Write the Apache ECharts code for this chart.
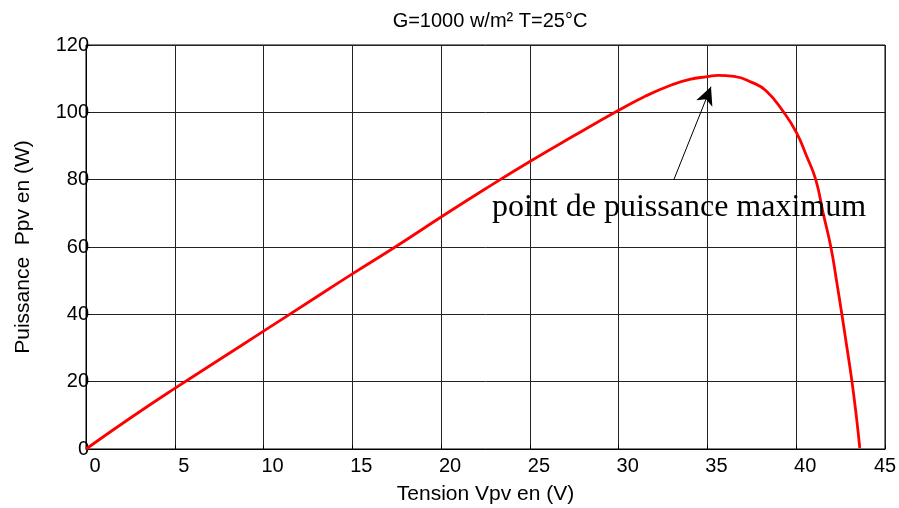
<!DOCTYPE html>
<html>
<head>
<meta charset="UTF-8">
<title>Puissance Ppv</title>
<script type="text/javascript" src="https://cdn.jsdelivr.net/npm/echarts@6/dist/echarts.min.js"></script>
</head>
<body style="margin:0">
    <div id="main" style="width: 899px; height: 508px;"></div>
    <script type="text/javascript">
        // tension (V) et puissance (W)
        var tension = [0, 2.5, 5, 7.5, 10, 12.5, 15, 17.5, 20, 22.5, 25, 27.5, 30, 31.5, 33, 34, 35, 35.6, 36.5, 37.5, 38.3, 39.3, 40, 40.6, 41.1, 41.52, 41.95, 42.27, 42.57, 42.86, 43.14, 43.38, 43.58];
        var puissance = [0, 9.2, 18, 26.5, 35, 43.5, 52, 60.3, 68.9, 77.3, 85.4, 93.1, 100.6, 104.8, 108.2, 109.8, 110.6, 111, 110.7, 108.9, 106.4, 100, 94.1, 86.8, 80, 70, 60, 50, 40, 30, 20, 10, 0.3];

        // annotation : flèche et texte
        var flecheDebut = [33.1, 79.9];
        var flecheFin = [35.2, 107.6];
        var texteCoord = [33.4, 71.8];
        var texteAnnot = 'point de puissance maximum';

        var points = [];
        for (var i = 0; i < tension.length; i++) {
            points.push([tension[i], puissance[i]]);
        }

        var myChart = echarts.init(document.getElementById('main'));

        var option = {
            animation: false,
            backgroundColor: '#fff',
            title: {
                text: 'G=1000 w/m² T=25°C',
                left: 485,
                textAlign: 'center',
                top: 6,
                textStyle: { fontFamily: 'Liberation Sans', fontSize: 20, fontWeight: 'normal', color: '#000' }
            },
            grid: {
                left: 86, right: 14, top: 45, bottom: 59,
                outerBoundsMode: 'none',
                containLabel: false,
                show: true, borderColor: '#000', borderWidth: 1
            },
            xAxis: {
                type: 'value',
                min: 0, max: 45, interval: 5,
                name: 'Tension Vpv en (V)',
                nameLocation: 'middle',
                nameGap: 35,
                nameTextStyle: { fontFamily: 'Liberation Sans', fontSize: 21, color: '#000' },
                axisLine: { lineStyle: { color: '#000', width: 1 } },
                axisTick: { inside: true, length: 4, lineStyle: { color: '#000' } },
                axisLabel: {
                    fontFamily: 'Liberation Sans', fontSize: 20, color: '#000', margin: 7,
                    padding: [0, 0, 0, 18],
                    formatter: function (v) { return v === 45 ? '{d|45}' : String(v); },
                    rich: { d: { fontFamily: 'Liberation Sans', fontSize: 20, color: '#000', padding: [0, 18, 0, 0] } }
                },
                splitLine: { show: true, lineStyle: { color: '#222', width: 1 } }
            },
            yAxis: {
                type: 'value',
                min: 0, max: 120, interval: 20,
                name: 'Puissance  Ppv en (W)',
                nameLocation: 'middle',
                nameGap: 52,
                nameTextStyle: { fontFamily: 'Liberation Sans', fontSize: 21, color: '#000' },
                axisLine: { show: true, lineStyle: { color: '#000', width: 1 } },
                axisTick: { show: true, inside: true, length: 4, lineStyle: { color: '#000' } },
                axisLabel: { fontFamily: 'Liberation Sans', fontSize: 20, color: '#000', margin: -3 },
                splitLine: { show: true, lineStyle: { color: '#222', width: 1 } }
            },
            series: [{
                type: 'line',
                data: points,
                smooth: 0.5,
                symbol: 'none',
                lineStyle: { color: '#ff0000', width: 2.8 },
                markLine: {
                    silent: true,
                    symbol: ['none', 'arrow'],
                    symbolSize: [13, 18],
                    label: { show: false },
                    lineStyle: { color: '#000', width: 1, type: 'solid' },
                    data: [[{ coord: flecheDebut }, { coord: flecheFin }]]
                },
                markPoint: {
                    silent: true,
                    symbol: 'circle',
                    symbolSize: 0,
                    label: {
                        show: true,
                        position: 'inside',
                        formatter: texteAnnot,
                        fontFamily: 'Liberation Serif',
                        fontSize: 32,
                        color: '#000'
                    },
                    data: [{ coord: texteCoord }]
                }
            }]
        };

        myChart.setOption(option);
    </script>
</body>
</html>
